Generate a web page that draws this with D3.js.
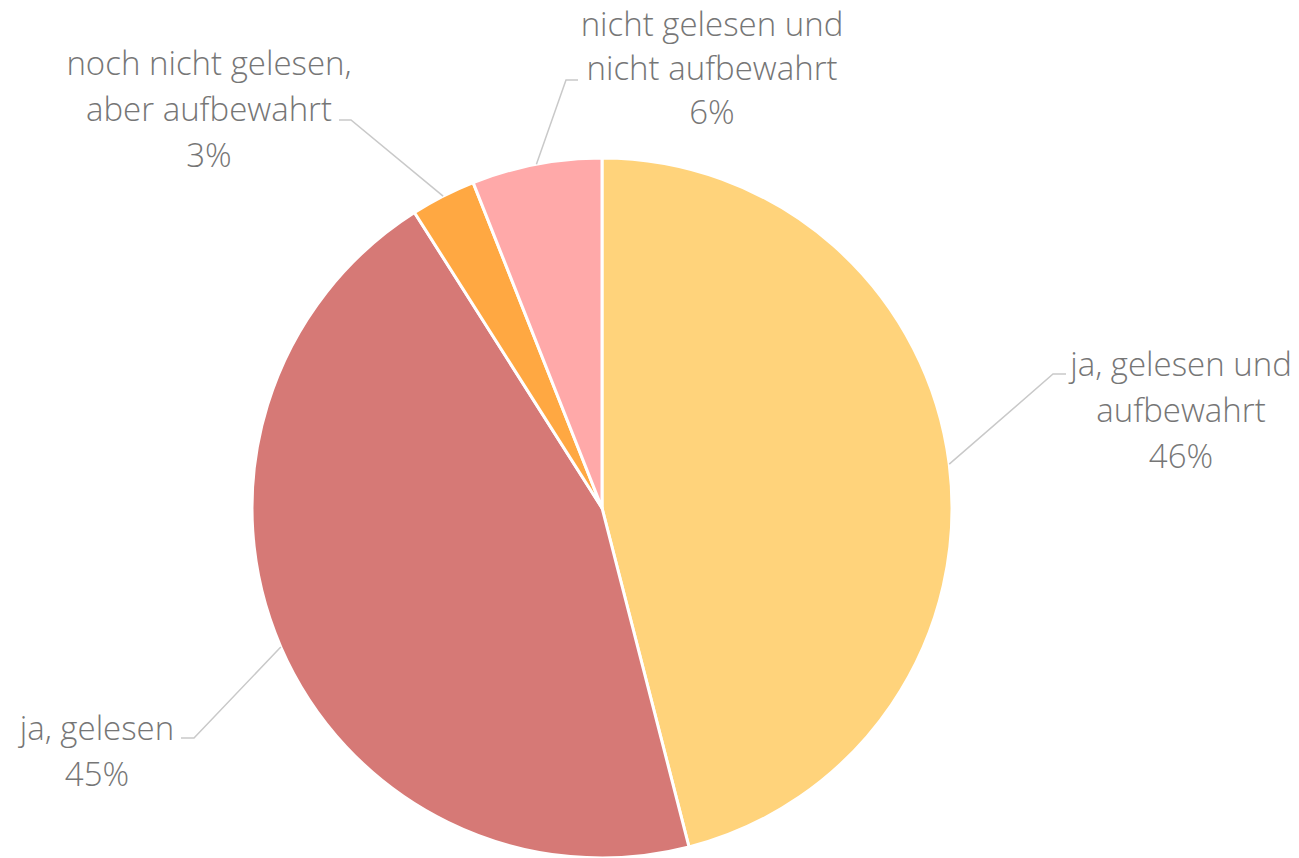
<!DOCTYPE html>
<html>
<head>
<meta charset="utf-8">
<script src="https://cdn.jsdelivr.net/npm/d3@7"></script>
<style>
  html, body { margin: 0; padding: 0; background: #fff; }
  svg { display: block; }
  text { font-family: "Open Sans", "Liberation Sans", sans-serif; font-weight: 300; }
</style>
</head>
<body>
<svg id="chart" width="1299" height="858"></svg>
<script>
// Data
const categories = [
  "ja, gelesen und aufbewahrt",
  "ja, gelesen",
  "noch nicht gelesen, aber aufbewahrt",
  "nicht gelesen und nicht aufbewahrt"
];
const values = [46, 45, 3, 6];
const labelLines = [
  ["ja, gelesen und", "aufbewahrt"],
  ["ja, gelesen"],
  ["noch nicht gelesen,", "aber aufbewahrt"],
  ["nicht gelesen und", "nicht aufbewahrt"]
];

// Styles / layout
const colors = ["#FFD37B", "#D67976", "#FFA842", "#FFA9A9"];
const cx = 602, cy = 508, R = 350;
const fontSize = 33;
// label layout: text centre x, first baseline y, line height, elbow point, leader end
const labelLayout = [
  { x: 1181, y: 376, lh: 46, elbow: [1053, 374], end: [1066, 374] },
  { x: 97,   y: 740, lh: 46, elbow: [194, 738],  end: [181, 738] },
  { x: 209,  y: 75,  lh: 46, elbow: [351, 120],  end: [339, 120] },
  { x: 712,  y: 36,  lh: 44, elbow: [566, 80],   end: [578, 80] }
];

const svg = d3.select("#chart");
const g = svg.append("g").attr("transform", `translate(${cx},${cy})`);

const pie = d3.pie().sort(null).value(d => d)(values);
const arc = d3.arc().innerRadius(0).outerRadius(R);

g.selectAll("path.slice")
  .data(pie)
  .join("path")
  .attr("class", "slice")
  .attr("d", arc)
  .attr("fill", (d, i) => colors[i])
  .attr("stroke", "#fff")
  .attr("stroke-width", 3)
  .attr("stroke-linejoin", "round");

// leader lines
pie.forEach((d, i) => {
  const a = (d.startAngle + d.endAngle) / 2;
  const sx = cx + R * Math.sin(a), sy = cy - R * Math.cos(a);
  const L = labelLayout[i];
  svg.append("polyline")
    .attr("points", [[sx, sy], L.elbow, L.end].map(p => p.join(",")).join(" "))
    .attr("fill", "none")
    .attr("stroke", "#C9C9C9")
    .attr("stroke-width", 1.5);
});

// labels
pie.forEach((d, i) => {
  const L = labelLayout[i];
  const lines = labelLines[i].concat([d3.format(".0%")(values[i] / d3.sum(values))]);
  const t = svg.append("text")
    .attr("x", L.x).attr("y", L.y)
    .attr("text-anchor", "middle")
    .attr("fill", "#767676")
    .attr("font-size", fontSize);
  lines.forEach((ln, k) => {
    t.append("tspan").attr("x", L.x).attr("dy", k === 0 ? 0 : L.lh).text(ln);
  });
});
</script>
</body>
</html>
